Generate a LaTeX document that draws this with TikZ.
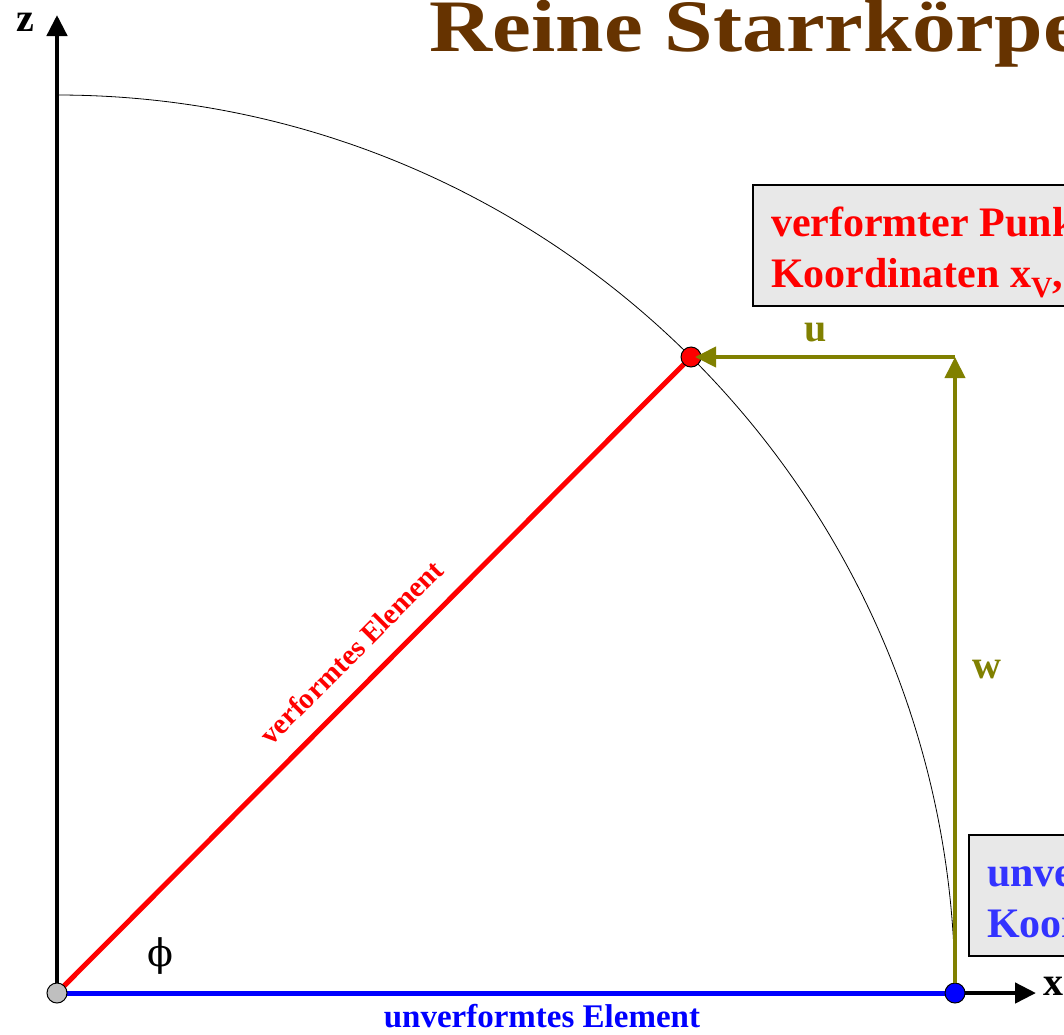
\documentclass[tikz,border=0pt]{standalone}
\usepackage{fontspec}
\setmainfont{Liberation Serif}
\newfontfamily\phifont{DejaVu Serif}
\usetikzlibrary{positioning,arrows.meta}
\definecolor{titlebrown}{RGB}{102,51,0}
\definecolor{dispolive}{RGB}{128,128,0}
\definecolor{boxgray}{RGB}{232,232,232}
\definecolor{lightblue}{RGB}{51,51,255}
\newcommand{\boxstrut}{\rule{0pt}{44pt}}
\newcommand{\boxdepth}{\rule[-12pt]{0pt}{0pt}}

\begin{document}
\begin{tikzpicture}[
    x=1pt, y=-1pt,
    axis/.style={line width=4.5pt, -{Triangle[length=21pt,width=20pt]}},
    elem/.style={line width=5pt},
    disp/.style={line width=4pt, dispolive, -{Triangle[length=21pt,width=20pt]}},
    dot/.style={circle, draw, line width=1pt, minimum size=20pt, inner sep=0pt},
    infobox/.style={draw, line width=2pt, fill=boxgray, anchor=north west, align=left,
        inner xsep=18pt, inner ysep=7pt, font=\fontsize{42}{51}\selectfont\bfseries},
    lbl/.style={font=\fontsize{40}{48}\selectfont\bfseries}
]
\useasboundingbox (0,0) rectangle (1064,1034);
\clip (0,0) rectangle (1064,1034);

% points
\coordinate (O) at (57,993);
\coordinate (B) at (955,993);
\coordinate (V) at (691,357);
\coordinate (corner) at (955,357);
\coordinate (ztip) at (57,15);
\coordinate (xtip) at (1036,993);

% title
\node[anchor=base west, text=titlebrown, font=\fontsize{74}{80}\selectfont\bfseries] (title) at (426,51)
    {\scalebox{1.18}[1]{Reine Starrkörperbewegung}};

% circle of rotation
\draw[line width=0.8pt] (57,95) arc[start angle=90, end angle=0, radius=898pt];

% axes
\draw[axis] (O) -- (ztip);
\draw[axis] (B) -- (xtip);
\node[lbl] (zlabel) at (25,22) {z};
\node[lbl, anchor=west] (xlabel) at (1040,986) {x};

% elements
\draw[elem, red] (O) -- (V)
    node[midway, sloped, above=16pt, font=\fontsize{29}{34}\selectfont\bfseries] (velem) {verformtes Element};
\draw[elem, blue] (O) -- (B)
    node[pos=0.54, below=5pt, font=\fontsize{33}{36}\selectfont\bfseries] (uelem) {unverformtes Element};

\node[dot, fill=gray!50] (Odot) at (O) {};
\node[dot, fill=blue] (Bdot) at (B) {};
\node[dot, fill=red] (Vdot) at (V) {};

% displacements
\draw[disp] (Bdot.north) -- (corner) node[midway, right=12pt, lbl, text=dispolive] (w) {w};
\draw[disp, shorten >=4pt] (corner) -- (V) node[midway, above=10pt, xshift=-7pt, lbl, text=dispolive] (u) {u};

\node[font=\phifont\fontsize{38}{40}\selectfont] (phi) at (160,956) {ϕ};

% info boxes
\node[infobox, text=red] (vbox) at (752,184)
    {\boxstrut verformter Punkt mit\\Koordinaten x\textsubscript{V}, z\textsubscript{V}\boxdepth};
\node[infobox, text=lightblue] (ubox) at (968,834)
    {\boxstrut unverformter Punkt mit\\Koordinaten x, z\boxdepth};
\end{tikzpicture}
\end{document}
